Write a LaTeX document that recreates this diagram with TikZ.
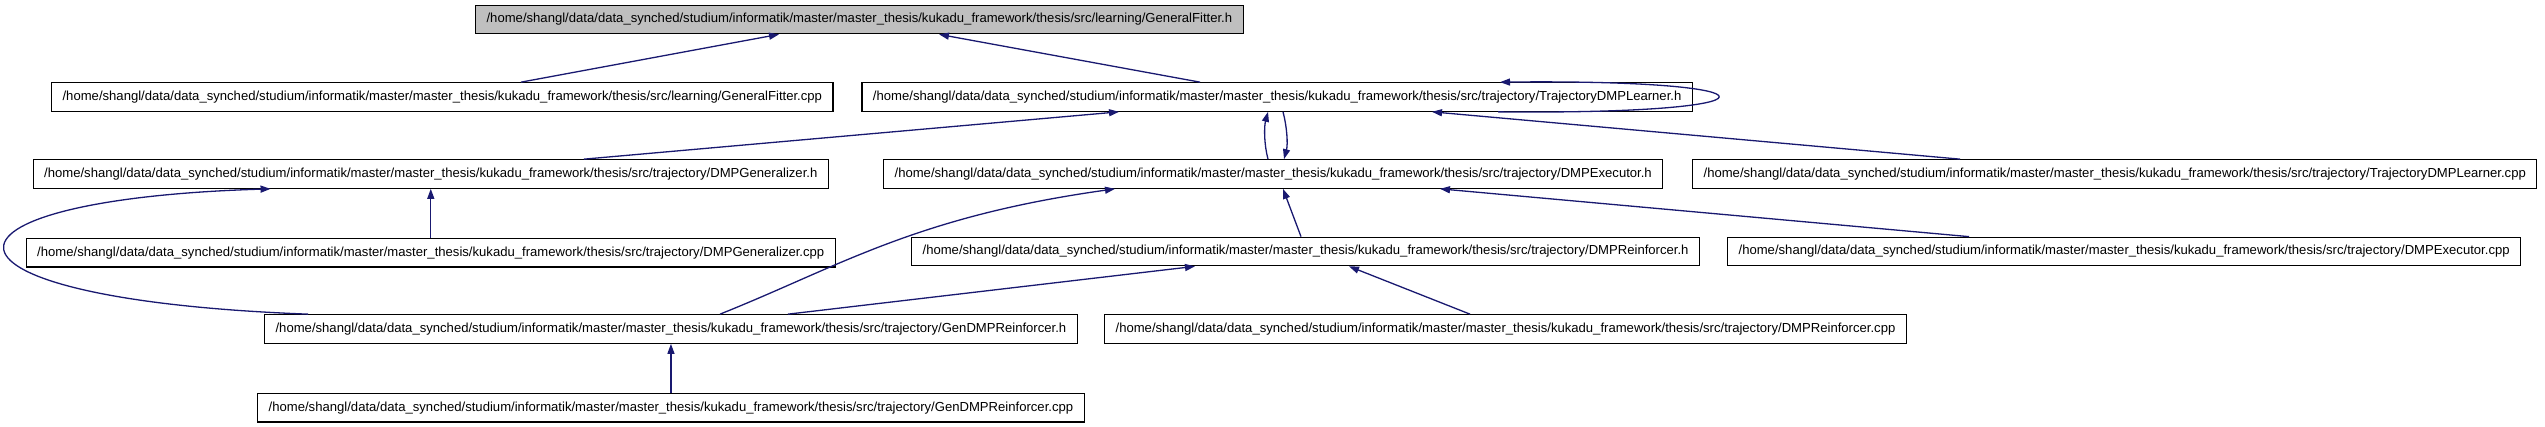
\documentclass[tikz,border=0pt]{standalone}
\usepackage{fontspec}
\setmainfont{Liberation Sans}
\usepackage{xcolor}
\usetikzlibrary{arrows.meta, positioning}
\definecolor{edgeblue}{HTML}{191970}
\newcommand{\srcdir}{/home/shangl/data/data\_synched/studium/informatik/master/master\_thesis/kukadu\_framework/thesis/src/}

\begin{document}
\begin{tikzpicture}[
  x=1pt, y=-1pt,
  font=\fontsize{13.1}{15}\selectfont,
  file/.style={draw=black, line width=1.2pt, fill=white, inner xsep=11pt,
               inner ysep=0pt, minimum height=28.5pt},
  focus/.style={file, fill=black!25},
  dep/.style={draw=edgeblue, line width=1.3pt, -{Triangle[length=10pt, width=7pt]}}
]
\useasboundingbox (0,0) rectangle (2545,427);
% rows of files
\node[focus, anchor=west] (gfh) at (475,19.5) {\srcdir learning/GeneralFitter.h};
\node[file, anchor=west] (gfcpp) at (51,97) {\srcdir learning/GeneralFitter.cpp};
\node[file, anchor=east] (tdlh) at (1693,97) {\srcdir trajectory/TrajectoryDMPLearner.h};
\node[file, anchor=east] (dgh) at (829,174) {\srcdir trajectory/DMPGeneralizer.h};
\node[file, anchor=west] (deh) at (883,174) {\srcdir trajectory/DMPExecutor.h};
\node[file, anchor=west] (tdlcpp) at (1692,174) {\srcdir trajectory/TrajectoryDMPLearner.cpp};
\node[file, below=49pt of dgh] (dgcpp) {\srcdir trajectory/DMPGeneralizer.cpp};
\node[file, anchor=west] (dreh) at (911,251.5) {\srcdir trajectory/DMPReinforcer.h};
\node[file, anchor=west] (decpp) at (1727,251.5) {\srcdir trajectory/DMPExecutor.cpp};
\node[file, anchor=west] (gdrh) at (264,329) {\srcdir trajectory/GenDMPReinforcer.h};
\node[file, anchor=west] (drcpp) at (1104,329) {\srcdir trajectory/DMPReinforcer.cpp};
\node[file, below=49pt of gdrh] (gdrcpp) {\srcdir trajectory/GenDMPReinforcer.cpp};
% include edges
\draw[dep] ([xshift=470pt]gfcpp.north west) -- ([xshift=304pt]gfh.south west);
\draw[dep] ([xshift=-493pt]tdlh.north east) -- ([xshift=464pt]gfh.south west);
\draw[dep] ([xshift=-195pt]tdlh.south east) .. controls +(293,3) and +(291,-3) .. ([xshift=-193pt]tdlh.north east);
\draw[dep] ([xshift=-245pt]dgh.north east) -- ([xshift=-574pt]tdlh.south east);
\draw[dep] ([xshift=385pt]deh.north west) .. controls +(-4,-15) and +(-4,15) .. ([xshift=-425pt]tdlh.south east);
\draw[dep] ([xshift=-410pt]tdlh.south east) .. controls +(4,15) and +(4,-15) .. ([xshift=401pt]deh.north west);
\draw[dep] ([xshift=268pt]tdlcpp.north west) -- ([xshift=-261pt]tdlh.south east);
\draw[dep] (dgcpp.north) -- (dgcpp.north |- dgh.south);
\draw[dep] ([xshift=44pt]gdrh.north west) .. controls +(-398,-15) and +(-360,11) .. ([xshift=238pt]dgh.south west);
\draw[dep] ([xshift=456pt]gdrh.north west) .. controls +(120,-48) and +(-200,28) .. ([xshift=232pt]deh.south west);
\draw[dep] ([xshift=524pt]gdrh.north west) -- ([xshift=284pt]dreh.south west);
\draw[dep] ([xshift=390pt]dreh.north west) -- ([xshift=400pt]deh.south west);
\draw[dep] ([xshift=242pt]decpp.north west) -- ([xshift=557pt]deh.south west);
\draw[dep] ([xshift=366pt]drcpp.north west) -- ([xshift=438pt]dreh.south west);
\draw[dep] (gdrcpp) -- (gdrh);
\end{tikzpicture}
\end{document}
